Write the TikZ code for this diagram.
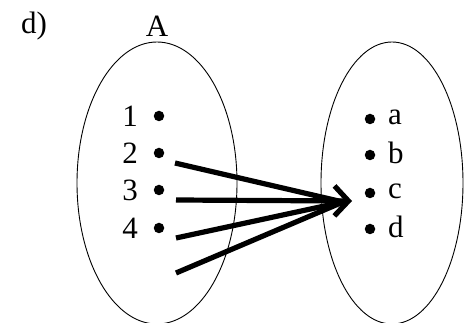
\documentclass[tikz,border=0pt]{standalone}
\usepackage{fontspec}
\setmainfont{Liberation Serif}
\usetikzlibrary{shapes.geometric,arrows.meta}
\begin{document}
\begin{tikzpicture}[x=1pt,y=-1pt,
  setbox/.style={draw,ellipse,line width=0.9pt,inner sep=0pt},
  lbl/.style={font=\fontsize{31}{34}\selectfont,inner sep=0pt},
  pt/.style={circle,fill,inner sep=0pt,minimum size=10.5pt},
  fat/.style={line width=5.2pt}]
\useasboundingbox (0,0) rectangle (464,323);
\node[setbox,minimum width=160pt,minimum height=282pt] (SA) at (157,183) {};
\node[setbox,minimum width=142pt,minimum height=282pt] (SB) at (392,183) {};
\node[lbl] (d) at (34,26) {d)};
\node[lbl] (A) at (157,26) {A};
\foreach \n/\y in {1/116,2/153,3/190,4/228}{
  \node[lbl] (l\n) at (130,\y) {\n};
  \node[pt] (p\n) at (159,\y) {};
}
\foreach \n/\y in {a/119,b/155,c/193,d/229}{
  \node[pt] (q\n) at (370,\y) {};
  \node[lbl,anchor=west] (r\n) at (388,\y-2) {\n};
}
\coordinate (s1) at (175,163);
\coordinate (s2) at (176,200);
\coordinate (s3) at (176,238);
\coordinate (s4) at (176,273);
\coordinate (t) at (352,201);
\coordinate (m) at (343,202);
\draw[fat] (s1) -- (m);
\draw[fat] (s3) -- (m);
\draw[fat] (s4) -- (m);
\draw[fat,-{Straight Barb[length=14pt,width=30pt,line width=5.2pt]}] (s2) -- (t);
\end{tikzpicture}
\end{document}
